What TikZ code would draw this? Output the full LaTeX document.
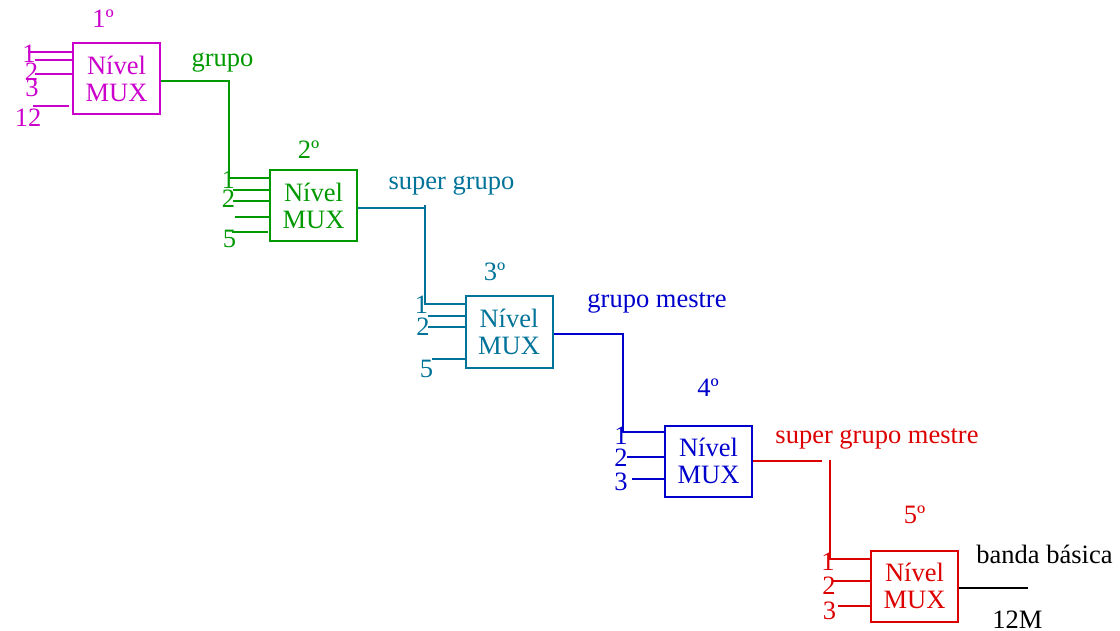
\documentclass[tikz,border=0pt]{standalone}
\usepackage{fontspec}
\setmainfont{Liberation Serif}
\definecolor{cmag}{RGB}{204,0,204}
\definecolor{cgrn}{RGB}{0,153,0}
\definecolor{cteal}{RGB}{0,115,153}
\definecolor{cblu}{RGB}{0,0,204}
\definecolor{cred}{RGB}{221,0,0}
\begin{document}
\begin{tikzpicture}[x=1pt,y=-1pt,font=\fontsize{26.5}{27}\selectfont,line width=2pt,
  mux/.style={draw,minimum width=87pt,minimum height=71pt,inner sep=0pt,align=center},
  lbl/.style={inner sep=0pt,anchor=base}]
\useasboundingbox (0,0) rectangle (1120,631);
% boxes
\node[mux,cmag]  (b1) at (116.5,78.5) {Nível\\MUX};
\node[mux,cgrn]  (b2) at (313.5,205.5) {Nível\\MUX};
\node[mux,cteal] (b3) at (509,332) {Nível\\MUX};
\node[mux,cblu]  (b4) at (708.5,461) {Nível\\MUX};
\node[mux,cred]  (b5) at (914.5,586) {Nível\\MUX};
% level numbers
\node[lbl,cmag]  (n1) at (103,28) {1º};
\node[lbl,cgrn]  (n2) at (308.5,159) {2º};
\node[lbl,cteal] (n3) at (494.5,280) {3º};
\node[lbl,cblu]  (n4) at (708,396) {4º};
\node[lbl,cred]  (n5) at (914.5,523) {5º};
% signal names
\node[lbl,cgrn]  (s1) at (222.5,67) {grupo};
\node[lbl,cteal] (s2) at (451.5,190) {super grupo};
\node[lbl,cblu]  (s3) at (657,308) {grupo mestre};
\node[lbl,cred]  (s4) at (877,443) {super grupo mestre};
\node[lbl]       (s5) at (1044.5,563) {banda básica};
\node[lbl]       (s6) at (1017.5,628) {12M};
% box 1 inputs
\coordinate (a1) at (28,52);
\coordinate (a2) at (35,60);
\coordinate (a3) at (35,74);
\coordinate (a4) at (33,106);
\coordinate (a4e) at (69,106);
\draw[cmag] (a1) -- (a1 -| b1.west);
\draw[cmag] (a2) -- (a2 -| b1.west);
\draw[cmag] (a3) -- (a3 -| b1.west);
\draw[cmag] (a4) -- (a4e);
\node[lbl,cmag] (l11) at (29,63) {1};
\node[lbl,cmag] (l12) at (31.5,81) {2};
\node[lbl,cmag] (l13) at (32,97) {3};
\node[lbl,cmag] (l14) at (28,127) {12};
% box1 -> box2
\coordinate (j1) at (229,178);
\draw[cgrn] (b1.east |- 0,81) -| (j1) -- (j1 -| b2.west);
\coordinate (c2) at (233,190);
\coordinate (c3) at (233,201);
\coordinate (c4) at (235,217);
\coordinate (c5) at (232,232);
\coordinate (c5e) at (268,232);
\draw[cgrn] (c2) -- (c2 -| b2.west);
\draw[cgrn] (c3) -- (c3 -| b2.west);
\draw[cgrn] (c4) -- (c4 -| b2.west);
\draw[cgrn] (c5) -- (c5e);
\node[lbl,cgrn] (l21) at (228.5,189) {1};
\node[lbl,cgrn] (l22) at (228.5,208) {2};
\node[lbl,cgrn] (l25) at (229.5,248) {5};
% box2 -> box3
\coordinate (k0) at (425,205);
\coordinate (j2) at (423,304);
\draw[cteal] (b2.east |- 0,208) -- (425,208);
\draw[cteal] (k0) -- (425,304) -- (j2 -| b3.west);
\coordinate (d2) at (428,316);
\coordinate (d3) at (428,327);
\coordinate (d5) at (432,359);
\draw[cteal] (d2) -- (d2 -| b3.west);
\draw[cteal] (d3) -- (d3 -| b3.west);
\draw[cteal] (d5) -- (d5 -| b3.west);
\node[lbl,cteal] (l31) at (421.5,314) {1};
\node[lbl,cteal] (l32) at (423,335) {2};
\node[lbl,cteal] (l35) at (426.5,377) {5};
% box3 -> box4
\coordinate (j3) at (623,432);
\draw[cblu] (b3.east |- 0,334) -| (j3) -- (j3 -| b4.west);
\coordinate (e2) at (627,457);
\coordinate (e3) at (632,479);
\draw[cblu] (e2) -- (e2 -| b4.west);
\draw[cblu] (e3) -- (e3 -| b4.west);
\node[lbl,cblu] (l41) at (621,444) {1};
\node[lbl,cblu] (l42) at (621,466) {2};
\node[lbl,cblu] (l43) at (621,490) {3};
% box4 -> box5
\coordinate (h1) at (822,461);
\coordinate (j4) at (830,460);
\draw[cred] (b4.east |- 0,461) -- (h1);
\draw[cred] (j4) |- (b5.west |- 0,559);
\coordinate (f2) at (833,581);
\coordinate (f3) at (838,606);
\draw[cred] (f2) -- (f2 -| b5.west);
\draw[cred] (f3) -- (f3 -| b5.west);
\node[lbl,cred] (l51) at (828,570) {1};
\node[lbl,cred] (l52) at (829,594) {2};
\node[lbl,cred] (l53) at (829.5,619) {3};
% output
\coordinate (o5) at (1028,588);
\draw (b5.east |- 0,588) -- (o5);
\end{tikzpicture}
\end{document}
